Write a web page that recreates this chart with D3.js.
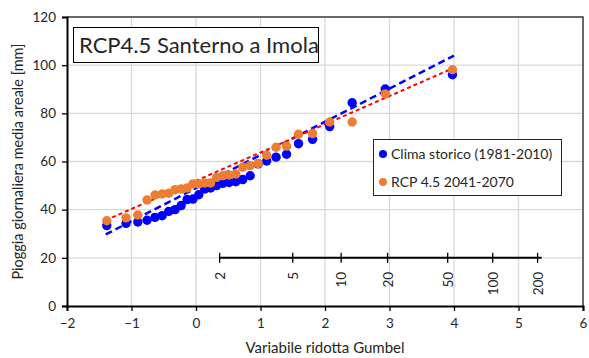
<!DOCTYPE html>
<html><head><meta charset="utf-8">
<script src="https://cdn.jsdelivr.net/npm/d3@7"></script>
<style>body{margin:0;background:#fff}svg{display:block}text{font-family:Lato,"Open Sans",sans-serif;fill:#262626}</style>
</head><body><svg id="c" width="589" height="358"></svg>
<script>
// Gumbel reduced variate (plotting positions) of the 30 ranked values
const gumbelX = [-1.383,-1.085,-0.902,-0.759,-0.636,-0.525,-0.422,-0.324,-0.230,-0.138,-0.047,0.043,0.134,0.226,0.319,0.415,0.514,0.617,0.725,0.840,0.963,1.096,1.241,1.404,1.589,1.807,2.073,2.421,2.934,3.976];
const storico = [33.4,34.3,34.9,35.6,36.8,37.5,39.3,40.0,41.7,44.2,44.4,46.2,48.6,49.0,50.0,50.9,51.3,51.6,52.5,54.1,59.0,60.2,61.8,63.0,67.4,69.2,74.5,84.4,90.1,96.0];
const rcp45 = [35.4,36.6,37.8,44.0,46.1,46.5,46.8,48.3,48.6,49.0,50.7,50.7,51.1,51.1,53.4,54.1,54.4,54.8,57.6,58.3,59.2,62.6,65.9,66.4,71.3,71.6,76.4,76.4,88.1,98.1];
const trendX = [-1.4, 4.0];
const trendStorico = [29.7, 104.0];
const trendRcp = [35.6, 98.9];
const xTicks = [-2,-1,0,1,2,3,4,5,6];
const yTicks = [0,20,40,60,80,100,120];
const returnPeriods = [2,5,10,20,50,100,200];
const seriesNames = ["Clima storico (1981-2010)","RCP 4.5 2041-2070"];
const title = "RCP4.5 Santerno a Imola";

const svg = d3.select("#c");
const L=67,R=583,T=17,B=306;
const x = d3.scaleLinear().domain([-2,6]).range([L,R]);
const y = d3.scaleLinear().domain([0,120]).range([B,T]);
const blue="#0000FF", orange="#ED7D31";

// grid
svg.append("g").selectAll("line").data(xTicks.slice(1)).join("line")
 .attr("x1",d=>x(d)).attr("x2",d=>x(d)).attr("y1",T).attr("y2",B)
 .attr("stroke","#d9d9d9").attr("stroke-width",1.3);
svg.append("g").selectAll("line").data(yTicks.slice(1)).join("line")
 .attr("x1",L).attr("x2",R).attr("y1",d=>y(d)).attr("y2",d=>y(d))
 .attr("stroke","#d9d9d9").attr("stroke-width",1.3);
// border top/right
svg.append("path").attr("d",`M${L},${T}H${R}V${B}`).attr("fill","none").attr("stroke","#404040").attr("stroke-width",1.5);

// axes
const xa = svg.append("g").attr("transform",`translate(0,${B})`)
 .call(d3.axisBottom(x).tickValues(xTicks).tickSize(5).tickPadding(7).tickFormat(d3.format("d")));
const ya = svg.append("g").attr("transform",`translate(${L},0)`)
 .call(d3.axisLeft(y).tickValues(yTicks).tickSize(5).tickPadding(6));
[xa,ya].forEach(a=>{a.select(".domain").attr("stroke","#000").attr("stroke-width",2);
 a.selectAll(".tick line").attr("stroke","#000").attr("stroke-width",1.3);
 a.selectAll("text").style("font-size","13.5px").attr("fill","#262626").style("font-family","Lato");});

// return period axis
const rv = t=>-Math.log(-Math.log(1-1/t));
const rpG = svg.append("g");
rpG.append("line").attr("x1",x(rv(2))).attr("x2",x(rv(200))+4).attr("y1",y(20)).attr("y2",y(20))
 .attr("stroke","#000").attr("stroke-width",2);
rpG.selectAll("line.t").data(returnPeriods).join("line").attr("class","t")
 .attr("x1",d=>x(rv(d))).attr("x2",d=>x(rv(d))).attr("y1",y(20)-5).attr("y2",y(20)+5)
 .attr("stroke","#000").attr("stroke-width",1.3);
rpG.selectAll("text").data(returnPeriods).join("text")
 .attr("transform",d=>`translate(${x(rv(d))+5},${y(20)+14}) rotate(-90)`)
 .attr("text-anchor","end").style("font-size","13.5px").text(d=>d);

// trend lines
const line = d3.line().x(d=>x(d[0])).y(d=>y(d[1]));
svg.append("path").datum(trendX.map((v,i)=>[v,trendStorico[i]])).attr("d",line)
 .attr("fill","none").attr("stroke",blue).attr("stroke-width",2.5).attr("stroke-dasharray","7,4");
svg.append("path").datum(trendX.map((v,i)=>[v,trendRcp[i]])).attr("d",line)
 .attr("fill","none").attr("stroke","#FF0000").attr("stroke-width",2).attr("stroke-dasharray","4,3");

// points
svg.append("g").selectAll("circle").data(gumbelX.map((v,i)=>[v,storico[i]])).join("circle")
 .attr("cx",d=>x(d[0])).attr("cy",d=>y(d[1])).attr("r",4.7).attr("fill",blue);
svg.append("g").selectAll("circle").data(gumbelX.map((v,i)=>[v,rcp45[i]])).join("circle")
 .attr("cx",d=>x(d[0])).attr("cy",d=>y(d[1])).attr("r",4.7).attr("fill",orange);

// axis titles
svg.append("text").attr("x",(L+R)/2).attr("y",353).attr("text-anchor","middle").style("font-size","15px").text("Variabile ridotta Gumbel");
svg.append("text").attr("transform",`translate(23,${(T+B)/2}) rotate(-90)`).attr("text-anchor","middle").style("font-size","14.5px").text("Pioggia giornaliera media areale [mm]");

// title box
svg.append("rect").attr("x",73.5).attr("y",27.5).attr("width",245).attr("height",35).attr("fill","#fff").attr("stroke","#000").attr("stroke-width",1);
svg.append("text").attr("x",79).attr("y",53).style("font-size","22px").attr("fill","#000").text(title);

// legend
svg.append("rect").attr("x",373.5).attr("y",139.5).attr("width",188).attr("height",56).attr("fill","#fff").attr("stroke","#262626").attr("stroke-width",1);
const lg = svg.append("g").selectAll("g").data(seriesNames).join("g").attr("transform",(d,i)=>`translate(383,${154+i*28})`);
lg.append("circle").attr("r",4).attr("fill",(d,i)=>i?orange:blue);
lg.append("text").attr("x",8).attr("y",5).style("font-size","14px").attr("fill","#000").text(d=>d);
</script></body></html>
